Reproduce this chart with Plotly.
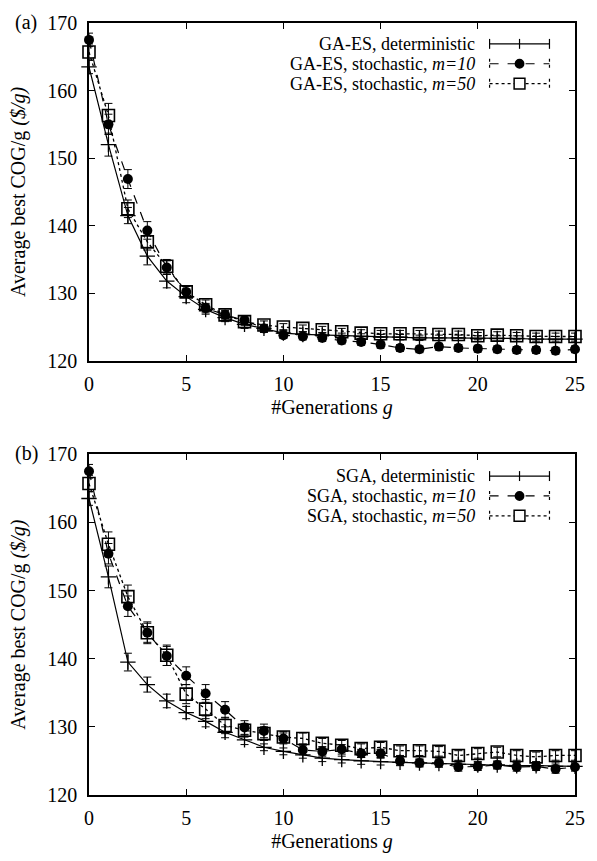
import plotly.graph_objects as go

# ---------------- data ----------------
generations = list(range(26))

a_det = [163.5, 152.0, 141.5, 135.5, 131.8, 129.5, 127.6, 126.4, 125.4, 124.8, 124.1, 123.9,
         123.8, 123.7, 123.6, 123.5, 123.5, 123.4, 123.4, 123.4, 123.3, 123.3, 123.3, 123.2, 123.2, 123.2]
a_m10 = [167.5, 155.0, 146.9, 139.3, 133.8, 130.2, 127.8, 126.8, 126.0, 124.8, 123.8, 123.6,
         123.4, 123.0, 122.8, 122.4, 121.9, 121.7, 122.1, 121.9, 121.8, 121.7, 121.6, 121.6, 121.5, 121.7]
a_m50 = [165.7, 156.3, 142.5, 137.6, 134.0, 130.2, 128.3, 126.8, 125.8, 125.3, 125.0, 124.8,
         124.6, 124.3, 124.1, 124.0, 124.0, 124.0, 123.9, 123.9, 123.7, 123.8, 123.7, 123.6, 123.6, 123.6]
a_det_err = [1.0, 1.7, 1.2, 1.3, 1.0, 0.9, 0.7, 0.6, 0.6, 0.5, 0.5, 0.4, 0.4, 0.4, 0.4, 0.4,
             0.4, 0.4, 0.4, 0.4, 0.4, 0.4, 0.4, 0.4, 0.4, 0.4]
a_m10_err = [1.0, 1.5, 1.4, 1.3, 1.0, 0.8, 0.7, 0.6, 0.6, 0.6, 0.5, 0.5, 0.5, 0.5, 0.5, 0.5,
             0.5, 0.5, 0.5, 0.5, 0.5, 0.5, 0.5, 0.5, 0.5, 0.5]
a_m50_err = [1.2, 1.8, 1.3, 1.2, 1.0, 0.8, 0.7, 0.6, 0.6, 0.6, 0.5, 0.5, 0.5, 0.5, 0.5, 0.5,
             0.5, 0.5, 0.5, 0.5, 0.5, 0.5, 0.5, 0.5, 0.5, 0.5]

b_det = [163.5, 152.0, 139.5, 136.2, 133.8, 132.1, 130.8, 129.2, 128.1, 127.0, 126.4, 125.9,
         125.4, 125.2, 125.0, 124.9, 124.8, 124.7, 124.6, 124.5, 124.4, 124.4, 124.3, 124.3, 124.2, 124.2]
b_m10 = [167.5, 155.4, 147.7, 143.8, 140.4, 137.5, 134.9, 132.5, 129.9, 129.4, 128.3, 126.6,
         126.4, 126.7, 126.1, 126.1, 125.0, 124.7, 124.7, 124.1, 124.2, 124.4, 124.1, 124.2, 123.8, 124.1]
b_m50 = [165.7, 156.8, 149.1, 143.8, 140.5, 134.8, 132.6, 130.2, 129.5, 129.0, 128.5, 128.3,
         127.6, 127.3, 126.8, 127.0, 126.5, 126.5, 126.4, 125.8, 126.1, 126.3, 125.8, 125.6, 125.8, 125.8]
b_det_err = [1.0, 1.6, 1.3, 1.1, 1.0, 0.9, 0.8, 0.8, 0.7, 0.5, 0.5, 0.5, 0.5, 0.5, 0.5, 0.5,
             0.5, 0.5, 0.5, 0.5, 0.5, 0.5, 0.5, 0.5, 0.5, 0.5]
b_m10_err = [1.0, 1.5, 1.5, 1.4, 1.4, 1.3, 1.3, 1.2, 1.0, 1.0, 0.8, 0.7, 0.7, 0.7, 0.6, 0.6,
             0.6, 0.6, 0.6, 0.6, 0.6, 0.6, 0.6, 0.6, 0.6, 0.6]
b_m50_err = [1.2, 1.8, 1.7, 1.6, 1.5, 1.4, 1.4, 1.2, 1.0, 1.0, 0.8, 0.8, 0.7, 0.7, 0.7, 0.7,
             0.7, 0.7, 0.7, 0.7, 0.7, 0.7, 0.7, 0.7, 0.7, 0.7]

labels_a = ["GA-ES, deterministic", "GA-ES, stochastic, <i>m=10</i>", "GA-ES, stochastic, <i>m=50</i>"]
labels_b = ["SGA, deterministic", "SGA, stochastic, <i>m=10</i>", "SGA, stochastic, <i>m=50</i>"]
panel_tags = ["(a)", "(b)"]
x_ticks = [0, 5, 10, 15, 20, 25]
y_ticks = [120, 130, 140, 150, 160, 170]

# ---------------- layout geometry ----------------
W, H = 597, 861
L, R, T, B = 89, 13, 23, 61
PW, PH = W - L - R, H - T - B
FONT = "Liberation Serif"


def px_x(px):
    return (px - L) / PW


def px_y(py):
    return (H - B - py) / PH


dom_a = [px_y(363), 1.0]
dom_b = [0.0, px_y(457)]

fig = go.Figure()

styles = [
    dict(line=dict(color="black", width=1.2, dash="solid"),
         marker=dict(symbol="cross-thin", size=11, color="black", line=dict(width=1.3, color="black"))),
    dict(line=dict(color="black", width=1.2, dash="dash"),
         marker=dict(symbol="circle", size=10, color="black", line=dict(width=0))),
    dict(line=dict(color="black", width=1.3, dash="dot"),
         marker=dict(symbol="square-open", size=12, color="black", line=dict(width=1.6))),
]

panels = [
    ("x", "y", [a_det, a_m10, a_m50], [a_det_err, a_m10_err, a_m50_err], labels_a),
    ("x2", "y2", [b_det, b_m10, b_m50], [b_det_err, b_m10_err, b_m50_err], labels_b),
]

for xa, ya, series, errs, labels in panels:
    for s, e, lab, st in zip(series, errs, labels, styles):
        fig.add_trace(go.Scatter(
            x=generations, y=s, mode="lines+markers", name=lab,
            line=st["line"], marker=st["marker"],
            error_y=dict(type="data", array=e, visible=True, color="black", thickness=1, width=4),
            xaxis=xa, yaxis=ya, showlegend=False, cliponaxis=False,
        ))

axis_common = dict(
    showline=True, linecolor="black", linewidth=1.6, mirror="allticks",
    ticks="inside", ticklen=6, tickwidth=1.2, tickcolor="black",
    showgrid=False, zeroline=False,
    tickfont=dict(family=FONT, size=20, color="black"),
)

xtitle = dict(text="#Generations <i>g</i>", font=dict(family=FONT, size=20, color="black"), standoff=6)
ytitle = dict(text="Average best COG/g <i>($/g)</i>", font=dict(family=FONT, size=20, color="black"), standoff=16)

fig.update_layout(
    width=W, height=H,
    font=dict(family=FONT, size=20, color="black"),
    margin=dict(l=L, r=R, t=T, b=B, pad=0),
    paper_bgcolor="white", plot_bgcolor="white",
    xaxis=dict(axis_common, range=[0, 25], tickvals=x_ticks, anchor="y", domain=[0, 1],
               title=xtitle, ticklabelstandoff=4),
    yaxis=dict(axis_common, range=[120, 170], tickvals=y_ticks, anchor="x", domain=dom_a,
               title=ytitle, ticklabelstandoff=6),
    xaxis2=dict(axis_common, range=[0, 25], tickvals=x_ticks, anchor="y2", domain=[0, 1],
                title=xtitle, ticklabelstandoff=4),
    yaxis2=dict(axis_common, range=[120, 170], tickvals=y_ticks, anchor="x2", domain=dom_b,
                title=ytitle, ticklabelstandoff=6),
    showlegend=False,
)

# ---------------- manual gnuplot-style legends ----------------
shapes = []
annotations = []
legend_rows = [[44, 64, 84], [479, 499, 519]]
text_right = 483
s0, s1 = 497, 558
smid = (s0 + s1) / 2
dashes = ["solid", "dash", "dot"]
LEG_FONT = 18

for rows, labels in zip(legend_rows, [labels_a, labels_b]):
    for i, (py, lab) in enumerate(zip(rows, labels)):
        annotations.append(dict(x=px_x(text_right), y=px_y(py), xref="paper", yref="paper",
                                text=lab, showarrow=False, xanchor="right", yanchor="middle",
                                borderpad=0,
                                font=dict(family=FONT, size=LEG_FONT, color="black")))
        shapes.append(dict(type="line", xref="paper", yref="paper",
                           x0=px_x(s0), x1=px_x(s1), y0=px_y(py), y1=px_y(py),
                           line=dict(color="black", width=1.2, dash=dashes[i])))
        for ex in (s0, s1):
            shapes.append(dict(type="line", xref="paper", yref="paper",
                               x0=px_x(ex), x1=px_x(ex), y0=px_y(py - 5), y1=px_y(py + 5),
                               line=dict(color="black", width=1.2, dash="solid" if i == 0 else "dot")))
        if i == 0:
            shapes.append(dict(type="line", xref="paper", yref="paper",
                               x0=px_x(smid), x1=px_x(smid), y0=px_y(py - 5), y1=px_y(py + 5),
                               line=dict(color="black", width=1.2)))
        elif i == 1:
            shapes.append(dict(type="circle", xref="paper", yref="paper",
                               x0=px_x(smid - 5), x1=px_x(smid + 5), y0=px_y(py + 5), y1=px_y(py - 5),
                               fillcolor="black", line=dict(color="black", width=0)))
        else:
            shapes.append(dict(type="rect", xref="paper", yref="paper",
                               x0=px_x(smid - 5.5), x1=px_x(smid + 5.5), y0=px_y(py + 5.5), y1=px_y(py - 5.5),
                               fillcolor="white", line=dict(color="black", width=1.5)))

for tag, py in zip(panel_tags, [22, 456]):
    annotations.append(dict(x=px_x(12), y=px_y(py), xref="paper", yref="paper", text=tag,
                            showarrow=False, xanchor="left", yanchor="middle",
                            font=dict(family=FONT, size=20, color="black")))

fig.update_layout(shapes=shapes, annotations=annotations)

fig.write_html("out.html")
